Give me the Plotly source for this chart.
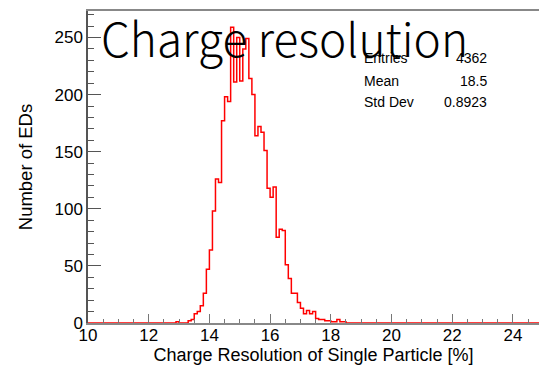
import numpy as np
import plotly.graph_objects as go

# Histogram binning (ROOT style TH1: 150 bins of 0.1 from 10 to 25)
x_min, x_max = 10.0, 25.0
bin_width = 0.1

# Bin contents starting at the 12.9 bin; all other bins are empty
first_filled_bin = 12.9
counts_filled = [
    1, 0, 0, 0, 2, 3, 8, 10, 15, 26,          # 12.9 - 13.8
    47, 64, 98, 126, 123, 177, 198, 194, 259, 211,   # 13.9 - 14.8
    250, 212, 240, 249, 214, 200, 164, 172, 167, 151,  # 14.9 - 15.8
    118, 110, 119, 75, 82, 81, 51, 39, 26, 26,  # 15.9 - 16.8
    18, 13, 8, 11, 8, 10, 4, 3, 3, 2,          # 16.9 - 17.8
    2, 1, 1, 3, 1, 1,                          # 17.9 - 18.4
]

stat_labels = ["Entries", "Mean", "Std Dev"]
stat_values = ["4362", "18.5", "0.8923"]

x_ticks = [10, 12, 14, 16, 18, 20, 22, 24]
y_ticks = [0, 50, 100, 150, 200, 250]

# Build full bin arrays
n_bins = int(round((x_max - x_min) / bin_width))
lo_edges = np.round(x_min + bin_width * np.arange(n_bins), 1)
contents = np.zeros(n_bins)
start = int(round((first_filled_bin - x_min) / bin_width))
contents[start:start + len(counts_filled)] = counts_filled

# Step outline: each bin edge holds its content until the next edge
step_x = np.append(lo_edges, x_max)
step_y = np.append(contents, contents[-1])

fig = go.Figure()
fig.add_trace(go.Scatter(
    x=step_x, y=step_y, mode="lines",
    line=dict(color="#ff0000", width=1.5, shape="hv"),
    hoverinfo="skip", showlegend=False,
))

W, H = 539, 365
left, right, top, bottom = 88, 0, 11, 42.3
plot_w = W - left - right
plot_h = H - top - bottom

tick_font = dict(family="Liberation Sans, Arial, sans-serif", size=17, color="#000")
title_font = dict(family="Liberation Sans, Arial, sans-serif", size=18, color="#000")

fig.update_xaxes(
    range=[x_min, x_min + plot_w / 30.35],
    tickvals=x_ticks, ticktext=[str(t) for t in x_ticks],
    ticks="inside", ticklen=9, tickwidth=1, tickcolor="#777",
    minor=dict(dtick=0.5, tick0=0, ticks="inside", ticklen=4.5, tickcolor="#777", showgrid=False),
    showline=True, linecolor="#888", linewidth=1.5, mirror=True,
    showgrid=False, zeroline=False,
    tickfont=tick_font, ticklabelstandoff=-4,
    title=dict(text="Charge Resolution of Single Particle [%]", font=title_font, standoff=7),
)
fig.update_yaxes(
    range=[0, plot_h / 1.141],
    tickvals=y_ticks, ticktext=[str(t) for t in y_ticks],
    ticks="inside", ticklen=13, tickwidth=1, tickcolor="#555",
    minor=dict(dtick=10, tick0=0, ticks="inside", ticklen=6.5, tickcolor="#555", showgrid=False),
    showline=True, linecolor="#555", linewidth=1.5, mirror=False,
    showgrid=False, zeroline=False,
    tickfont=tick_font,
    title=dict(text="Number of EDs", font=dict(title_font, size=18.5), standoff=17),
)

annotations = []
row_y = [57.5, 80.5, 102]
for lab, val, yy in zip(stat_labels, stat_values, row_y):
    yp = (H - bottom - yy) / plot_h
    annotations.append(dict(
        x=(361.7 - left) / plot_w, y=yp, xref="paper", yref="paper",
        text=lab, showarrow=False, xanchor="left", yanchor="middle",
        font=dict(family="Liberation Sans, Arial, sans-serif", size=14, color="#000"),
    ))
    annotations.append(dict(
        x=(489 - left) / plot_w, y=yp, xref="paper", yref="paper",
        text=val, showarrow=False, xanchor="right", yanchor="middle",
        font=dict(family="Liberation Sans, Arial, sans-serif", size=14, color="#000"),
    ))

# Large overlay title
annotations.append(dict(
    x=(99 - left) / plot_w, y=(H - bottom - 37) / plot_h, xref="paper", yref="paper",
    text="Charge resolution", showarrow=False, xanchor="left", yanchor="middle",
    font=dict(family="Noto Sans CJK SC, Noto Sans, sans-serif", size=46, color="#000",
              weight=300),
))

fig.update_layout(
    width=W, height=H,
    margin=dict(l=left, r=right, t=top, b=bottom, pad=0),
    paper_bgcolor="#fff", plot_bgcolor="#fff",
    annotations=annotations,
)

fig.write_html("out.html")
